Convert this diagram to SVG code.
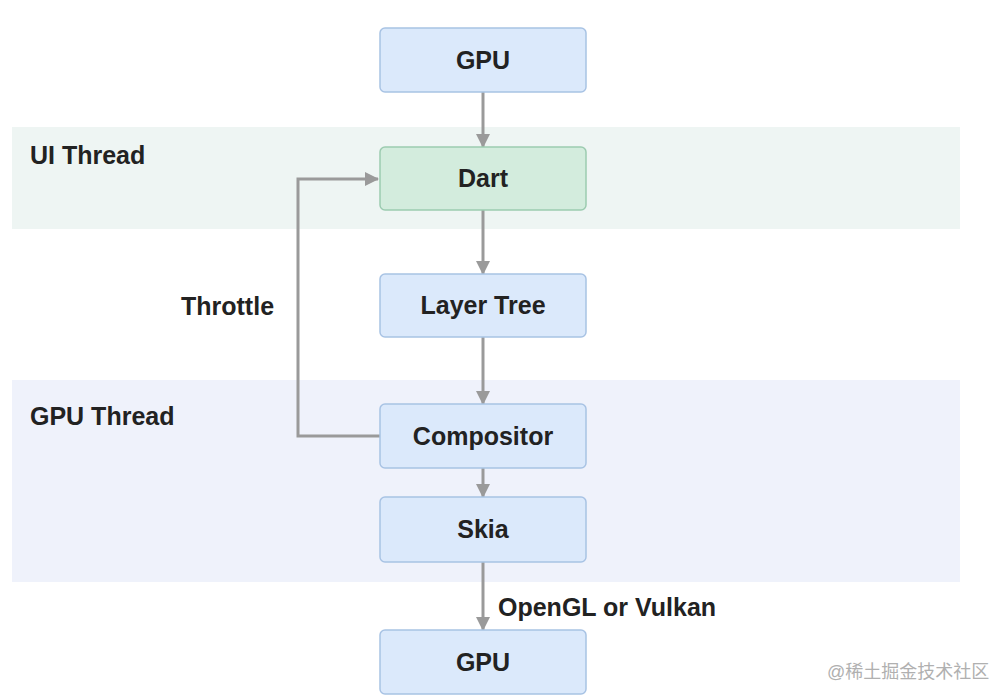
<svg xmlns="http://www.w3.org/2000/svg" width="1008" height="700" viewBox="0 0 1008 700">
<defs>
<marker id="ah" markerWidth="14" markerHeight="16" refX="13" refY="8" orient="auto" markerUnits="userSpaceOnUse">
<path d="M0,1 L14,8 L0,15 Z" fill="#9a9a9a"/>
</marker>
<style>
.band-ui{fill:#eef5f3}
.band-gpu{fill:#eff2fb}
.box{fill:#dbe9fb;stroke:#a8c3e4;stroke-width:1.5}
.dart{fill:#d3ecdd;stroke:#9ccbb0;stroke-width:1.5}
.t{font-family:"Liberation Sans",Arial,sans-serif;font-weight:bold;font-size:25px;fill:#222222}
.c{text-anchor:middle}
.edge{fill:none;stroke:#9a9a9a;stroke-width:3;marker-end:url(#ah)}
.wm{font-family:"Liberation Sans","Noto Sans CJK SC",sans-serif;font-size:18px;fill:#b0b0b0}
</style>
</defs>
<rect width="1008" height="700" fill="#ffffff"/>
<g id="bands">
<rect class="band-ui" x="12" y="127" width="948" height="102"/>
<rect class="band-gpu" x="12" y="380" width="948" height="202"/>
<text class="t" x="30" y="164">UI Thread</text>
<text class="t" x="30" y="425">GPU Thread</text>
</g>
<g id="connectors">
<path class="edge" d="M483,92 L483,147"/>
<path class="edge" d="M483,210 L483,274"/>
<path class="edge" d="M483,337 L483,404"/>
<path class="edge" d="M483,468 L483,497"/>
<path class="edge" d="M483,562 L483,630"/>
<path class="edge" d="M380,436 L298,436 L298,179 L378,179"/>
<text class="t" x="181" y="315">Throttle</text>
<text class="t" x="498" y="616">OpenGL or Vulkan</text>
</g>
<g id="gpu-top"><rect class="box" x="380" y="28" width="206" height="64" rx="5"/><text class="t c" x="483" y="69">GPU</text></g>
<g id="dart"><rect class="dart" x="380" y="147" width="206" height="63" rx="5"/><text class="t c" x="483" y="187">Dart</text></g>
<g id="layer-tree"><rect class="box" x="380" y="274" width="206" height="63" rx="5"/><text class="t c" x="483" y="314">Layer Tree</text></g>
<g id="compositor"><rect class="box" x="380" y="404" width="206" height="64" rx="5"/><text class="t c" x="483" y="445">Compositor</text></g>
<g id="skia"><rect class="box" x="380" y="497" width="206" height="65" rx="5"/><text class="t c" x="483" y="538">Skia</text></g>
<g id="gpu-bottom"><rect class="box" x="380" y="630" width="206" height="64" rx="5"/><text class="t c" x="483" y="671">GPU</text></g>
<text class="wm" x="827" y="678">@稀土掘金技术社区</text>
</svg>
